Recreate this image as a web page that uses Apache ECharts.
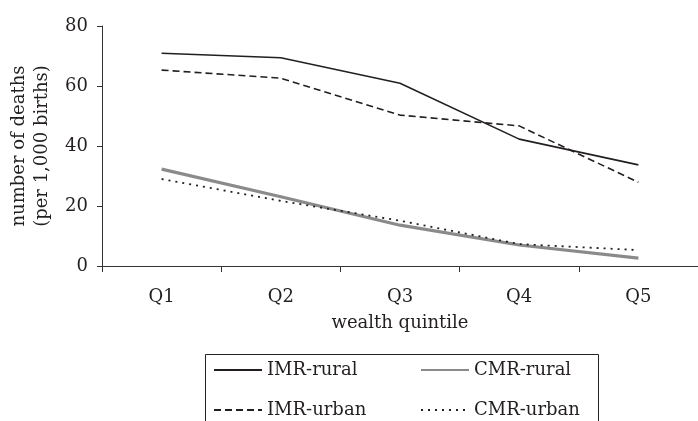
<!DOCTYPE html>
<html>
<head>
<meta charset="utf-8">
<script src="https://cdn.jsdelivr.net/npm/echarts@6/dist/echarts.min.js"></script>
<style>
  html, body { margin: 0; padding: 0; background: #fff; }
  #chart { width: 698px; height: 421px; }
</style>
</head>
<body>
<div id="chart"></div>
<script>
// data (deaths per 1,000 births)
var quintiles = ["Q1", "Q2", "Q3", "Q4", "Q5"];
var imrRural = [70.9, 69.4, 60.9, 42.3, 33.7];
var imrUrban = [65.3, 62.6, 50.3, 46.7, 27.9];
var cmrRural = [32.3, 23.1, 13.6, 7.0, 2.6];
var cmrUrban = [29.0, 21.7, 15.1, 7.3, 5.3];
var yTicks = [0, 20, 40, 60, 80];

var font = "DejaVu Serif";
var ink = "#231f20";

var chart = echarts.init(document.getElementById("chart"));

function lineSeries(name, data, color, width, type) {
  return {
    name: name,
    type: "line",
    data: data,
    symbol: "none",
    silent: true,
    animation: false,
    lineStyle: { color: color, width: width, type: type },
    itemStyle: { color: color }
  };
}

var legendText = { fontFamily: font, fontSize: 18, color: ink, lineHeight: 20 };

function legendColumn(left, names) {
  return {
    orient: "vertical",
    left: left,
    top: 360,
    padding: 0,
    itemWidth: 48,
    itemHeight: 14,
    itemGap: 20,
    itemStyle: { opacity: 0 },
    textStyle: legendText,
    data: names
  };
}

chart.setOption({
  animation: false,
  grid: { left: 102, right: -2, top: 26, bottom: 155 },
  xAxis: {
    type: "category",
    data: quintiles,
    boundaryGap: true,
    name: "wealth quintile",
    nameLocation: "middle",
    nameGap: 48,
    nameTextStyle: { fontFamily: font, fontSize: 18, color: ink },
    axisLine: { lineStyle: { color: "#333", width: 1 } },
    axisTick: { show: true, length: 6, lineStyle: { color: "#333" } },
    axisLabel: { fontFamily: font, fontSize: 18, color: ink, margin: 22 },
    splitLine: { show: false }
  },
  yAxis: {
    type: "value",
    min: yTicks[0],
    max: yTicks[yTicks.length - 1],
    interval: 20,
    name: "number of deaths\n(per 1,000 births)",
    nameLocation: "middle",
    nameGap: 46,
    nameRotate: 90,
    nameTextStyle: { fontFamily: font, fontSize: 18, color: ink, lineHeight: 23 },
    axisLine: { show: true, lineStyle: { color: "#333", width: 1 } },
    axisTick: { show: true, length: 5, lineStyle: { color: "#333" } },
    axisLabel: { fontFamily: font, fontSize: 18, color: ink, margin: 14 },
    splitLine: { show: false }
  },
  legend: [
    legendColumn(213, ["IMR-rural", "IMR-urban"]),
    legendColumn(420, ["CMR-rural", "CMR-urban"])
  ],
  graphic: [
    {
      type: "rect",
      silent: true,
      shape: { x: 205.5, y: 354.5, width: 393, height: 80 },
      style: { fill: "none", stroke: "#222", lineWidth: 1 }
    }
  ],
  series: [
    lineSeries("IMR-rural", imrRural, ink, 1.6, "solid"),
    lineSeries("IMR-urban", imrUrban, ink, 1.6, [7, 4]),
    lineSeries("CMR-rural", cmrRural, "#8a8a8a", 3.2, "solid"),
    lineSeries("CMR-urban", cmrUrban, ink, 1.8, [2, 5])
  ]
});
</script>
</body>
</html>
